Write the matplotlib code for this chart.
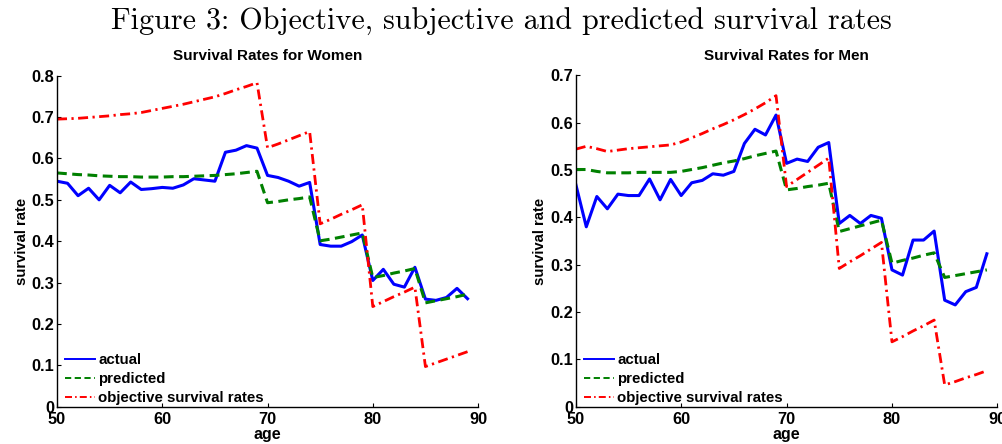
import matplotlib
matplotlib.use("Agg")
import matplotlib.pyplot as plt
import numpy as np

# ---- data -------------------------------------------------------------
ages = list(range(50, 90))

women_actual = [0.545, 0.540, 0.510, 0.528, 0.500, 0.535, 0.517, 0.543, 0.525, 0.527,
                0.530, 0.528, 0.536, 0.551, 0.548, 0.545, 0.615, 0.620, 0.631, 0.625,
                0.559, 0.554, 0.545, 0.533, 0.542, 0.392, 0.388, 0.388, 0.399, 0.415,
                0.305, 0.332, 0.296, 0.289, 0.337, 0.260, 0.257, 0.264, 0.286, 0.261]
women_predicted = [0.565, 0.563, 0.561, 0.560, 0.558, 0.557, 0.556, 0.556, 0.555, 0.555,
                   0.555, 0.556, 0.556, 0.557, 0.558, 0.559, 0.561, 0.563, 0.566, 0.569,
                   0.493, 0.496, 0.500, 0.503, 0.507, 0.401, 0.405, 0.410, 0.415, 0.420,
                   0.312, 0.317, 0.323, 0.328, 0.334, 0.251, 0.256, 0.261, 0.266, 0.272]
women_objective = [0.695, 0.696, 0.697, 0.699, 0.701, 0.703, 0.706, 0.708, 0.711, 0.716,
                   0.721, 0.726, 0.731, 0.737, 0.743, 0.749, 0.757, 0.766, 0.774, 0.783,
                   0.626, 0.635, 0.645, 0.655, 0.665, 0.442, 0.453, 0.465, 0.476, 0.488,
                   0.242, 0.254, 0.266, 0.277, 0.289, 0.097, 0.106, 0.115, 0.124, 0.133]

men_actual = [0.470, 0.380, 0.444, 0.418, 0.449, 0.446, 0.446, 0.481, 0.437, 0.480,
              0.446, 0.473, 0.478, 0.492, 0.489, 0.497, 0.556, 0.586, 0.574, 0.616,
              0.514, 0.523, 0.518, 0.548, 0.558, 0.387, 0.404, 0.387, 0.404, 0.398,
              0.289, 0.278, 0.352, 0.352, 0.371, 0.225, 0.215, 0.243, 0.252, 0.323]
men_predicted = [0.501, 0.501, 0.497, 0.494, 0.494, 0.494, 0.495, 0.495, 0.495, 0.495,
                 0.497, 0.501, 0.505, 0.510, 0.515, 0.519, 0.524, 0.530, 0.535, 0.540,
                 0.458, 0.461, 0.465, 0.468, 0.472, 0.370, 0.376, 0.382, 0.388, 0.394,
                 0.303, 0.309, 0.314, 0.320, 0.325, 0.273, 0.277, 0.281, 0.285, 0.289]
men_objective = [0.544, 0.550, 0.545, 0.539, 0.542, 0.545, 0.547, 0.549, 0.551, 0.553,
                 0.559, 0.568, 0.577, 0.587, 0.596, 0.606, 0.617, 0.629, 0.642, 0.657,
                 0.465, 0.480, 0.495, 0.510, 0.525, 0.292, 0.306, 0.319, 0.333, 0.347,
                 0.137, 0.148, 0.160, 0.171, 0.183, 0.046, 0.053, 0.061, 0.068, 0.076]

x_ticks = [50, 60, 70, 80, 90]
women_yticks = [0, 0.1, 0.2, 0.3, 0.4, 0.5, 0.6, 0.7, 0.8]
men_yticks = [0, 0.1, 0.2, 0.3, 0.4, 0.5, 0.6, 0.7]
series_labels = ["actual", "predicted", "objective survival rates"]

fig_title = "Figure 3: Objective, subjective and predicted survival rates"

# ---- figure -----------------------------------------------------------
plt.rcParams["font.family"] = ["Liberation Sans", "DejaVu Sans"]
fig = plt.figure(figsize=(10.02, 4.44), dpi=100)

fig.text(0.5, 0.951, fig_title, ha="center", va="center",
         family="cmr10", fontsize=21.7)

panels = [
    ([0.0569, 0.084, 0.4202, 0.7455], "Survival Rates for Women",
     women_actual, women_predicted, women_objective, women_yticks),
    ([0.5746, 0.084, 0.4208, 0.7464], "Survival Rates for Men",
     men_actual, men_predicted, men_objective, men_yticks),
]

for rect, title, act, pred, obj, yt in panels:
    ax = fig.add_axes(rect)
    ax.plot(ages, act, color="#0000ff", lw=2.2, ls="-", label=series_labels[0])
    ax.plot(ages, pred, color="#008000", lw=2.2, ls=(0, (3.2, 1.8)), label=series_labels[1])
    ax.plot(ages, obj, color="#ff0000", lw=2.0, ls=(0, (3.6, 1.6, 0.8, 1.6)), label=series_labels[2])

    ax.set_xlim(50, 90)
    ax.set_ylim(yt[0], yt[-1])
    ax.set_xticks(x_ticks)
    ax.set_xticklabels([str(t) for t in x_ticks])
    ax.set_yticks(yt)
    ax.set_yticklabels(["0" if v == 0 else f"{v:.1f}" for v in yt])
    for s in ("top", "right"):
        ax.spines[s].set_visible(False)
    for s in ("left", "bottom"):
        ax.spines[s].set_linewidth(1.0)
    ax.tick_params(direction="in", length=3, width=0.8, labelsize=11.8)
    ax.tick_params(axis="x", pad=3.5)
    ax.tick_params(axis="y", pad=2)
    for lab in ax.get_xticklabels() + ax.get_yticklabels():
        lab.set_fontweight("bold")

    ax.set_title(title, fontsize=11, fontweight="bold", pad=11)
    ax.set_ylabel("survival rate", fontsize=10.7, fontweight="bold", labelpad=2)
    ax.set_xlabel("age", fontsize=11.5, fontweight="bold", labelpad=0.5)

    leg = ax.legend(loc="lower left", bbox_to_anchor=(-0.005, -0.027), frameon=False,
                    prop={"weight": "bold", "size": 10.8}, handlelength=2.0,
                    handletextpad=0.2, labelspacing=0.34, borderaxespad=0.3)
    for hl in leg.get_lines():
        hl.set_linewidth(1.4)

fig.savefig("out.png", dpi=100)
